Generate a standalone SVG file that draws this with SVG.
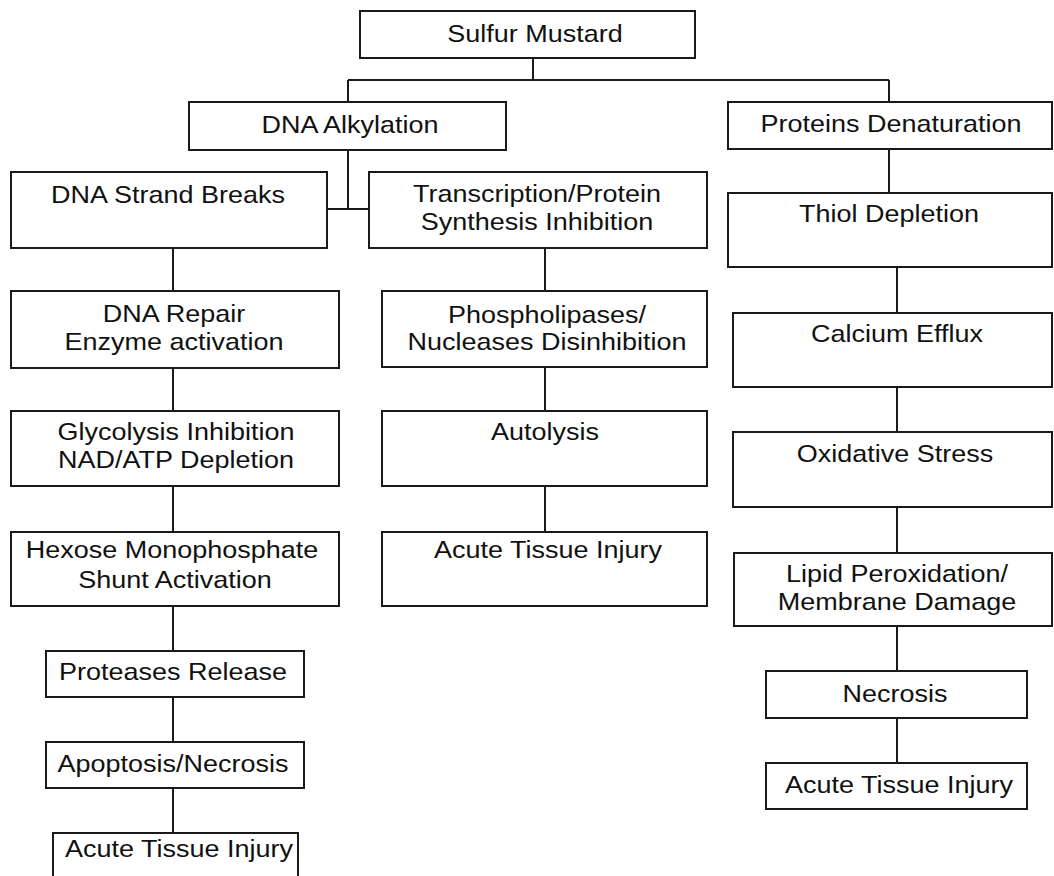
<svg xmlns="http://www.w3.org/2000/svg" width="1054" height="876" viewBox="0 0 1054 876">
  <style>
    .box { fill: #ffffff; stroke: #1a1a1a; stroke-width: 2; }
    .lbl { font-family: "Liberation Sans", Arial, sans-serif; font-size: 24px; fill: #111111; text-anchor: middle; }
    .wire { fill: none; stroke: #1a1a1a; stroke-width: 2; }
  </style>
  <rect x="0" y="0" width="1054" height="876" fill="#ffffff"/>

  <!-- connectors -->
  <g id="connectors" class="wire">
    <path d="M533 58 V80 M348 80 H889 M348 80 V102 M889 80 V102"/>
    <path d="M348 150 V209 M327 209 H369"/>
    <path d="M173 248 V291 M173 368 V411 M173 486 V532 M173 606 V651 M173 697 V742 M173 788 V833"/>
    <path d="M545 248 V291 M545 367 V411 M545 486 V532"/>
    <path d="M889 149 V193 M897 267 V313 M897 387 V432 M897 507 V553 M897 626 V671 M897 718 V763"/>
  </g>

  <!-- boxes; labels use a slightly widened face (x scaled by 1.125, so x values are divided by 1.125) -->
  <g id="sulfur-mustard">
    <rect class="box" x="360" y="11" width="335" height="47"/>
    <text class="lbl" transform="scale(1.125,1)" x="475.6" y="42">Sulfur Mustard</text>
  </g>
  <g id="dna-alkylation">
    <rect class="box" x="189" y="102" width="317" height="48"/>
    <text class="lbl" transform="scale(1.125,1)" x="311.1" y="133">DNA Alkylation</text>
  </g>
  <g id="proteins-denaturation">
    <rect class="box" x="728" y="102" width="324" height="47"/>
    <text class="lbl" transform="scale(1.125,1)" x="792" y="132">Proteins Denaturation</text>
  </g>

  <!-- left column -->
  <g id="dna-strand-breaks">
    <rect class="box" x="11" y="172" width="316" height="76"/>
    <text class="lbl" transform="scale(1.125,1)" x="149.3" y="203">DNA Strand Breaks</text>
  </g>
  <g id="dna-repair">
    <rect class="box" x="11" y="291" width="328" height="77"/>
    <text class="lbl" transform="scale(1.125,1)" x="154.7" y="322">DNA Repair</text>
    <text class="lbl" transform="scale(1.125,1)" x="154.7" y="350">Enzyme activation</text>
  </g>
  <g id="glycolysis-inhibition">
    <rect class="box" x="11" y="411" width="328" height="75"/>
    <text class="lbl" transform="scale(1.125,1)" x="156.4" y="440">Glycolysis Inhibition</text>
    <text class="lbl" transform="scale(1.125,1)" x="156.4" y="468">NAD/ATP Depletion</text>
  </g>
  <g id="hexose-shunt">
    <rect class="box" x="11" y="532" width="328" height="74"/>
    <text class="lbl" transform="scale(1.125,1)" x="152.9" y="558">Hexose Monophosphate</text>
    <text class="lbl" transform="scale(1.125,1)" x="155.6" y="588">Shunt Activation</text>
  </g>
  <g id="proteases-release">
    <rect class="box" x="46" y="651" width="258" height="46"/>
    <text class="lbl" transform="scale(1.125,1)" x="153.8" y="680">Proteases Release</text>
  </g>
  <g id="apoptosis-necrosis">
    <rect class="box" x="46" y="742" width="258" height="46"/>
    <text class="lbl" transform="scale(1.125,1)" x="153.8" y="772">Apoptosis/Necrosis</text>
  </g>
  <g id="acute-injury-left">
    <rect class="box" x="53" y="833" width="245" height="50"/>
    <text class="lbl" transform="scale(1.125,1)" x="159.1" y="857">Acute Tissue Injury</text>
  </g>

  <!-- middle column -->
  <g id="transcription-inhibition">
    <rect class="box" x="369" y="172" width="338" height="76"/>
    <text class="lbl" transform="scale(1.125,1)" x="477.3" y="202">Transcription/Protein</text>
    <text class="lbl" transform="scale(1.125,1)" x="477.3" y="230">Synthesis Inhibition</text>
  </g>
  <g id="phospholipases">
    <rect class="box" x="382" y="291" width="325" height="76"/>
    <text class="lbl" transform="scale(1.125,1)" x="486.2" y="323">Phospholipases/</text>
    <text class="lbl" transform="scale(1.125,1)" x="486.2" y="350">Nucleases Disinhibition</text>
  </g>
  <g id="autolysis">
    <rect class="box" x="382" y="411" width="325" height="75"/>
    <text class="lbl" transform="scale(1.125,1)" x="484.4" y="440">Autolysis</text>
  </g>
  <g id="acute-injury-middle">
    <rect class="box" x="382" y="532" width="325" height="74"/>
    <text class="lbl" transform="scale(1.125,1)" x="487.1" y="558">Acute Tissue Injury</text>
  </g>

  <!-- right column -->
  <g id="thiol-depletion">
    <rect class="box" x="728" y="193" width="324" height="74"/>
    <text class="lbl" transform="scale(1.125,1)" x="790.2" y="222">Thiol Depletion</text>
  </g>
  <g id="calcium-efflux">
    <rect class="box" x="733" y="313" width="319" height="74"/>
    <text class="lbl" transform="scale(1.125,1)" x="797.3" y="342">Calcium Efflux</text>
  </g>
  <g id="oxidative-stress">
    <rect class="box" x="733" y="432" width="319" height="75"/>
    <text class="lbl" transform="scale(1.125,1)" x="795.6" y="462">Oxidative Stress</text>
  </g>
  <g id="lipid-peroxidation">
    <rect class="box" x="734" y="553" width="318" height="73"/>
    <text class="lbl" transform="scale(1.125,1)" x="797.3" y="582">Lipid Peroxidation/</text>
    <text class="lbl" transform="scale(1.125,1)" x="797.3" y="610">Membrane Damage</text>
  </g>
  <g id="necrosis">
    <rect class="box" x="766" y="671" width="261" height="47"/>
    <text class="lbl" transform="scale(1.125,1)" x="795.6" y="702">Necrosis</text>
  </g>
  <g id="acute-injury-right">
    <rect class="box" x="766" y="763" width="261" height="46"/>
    <text class="lbl" transform="scale(1.125,1)" x="799.1" y="793">Acute Tissue Injury</text>
  </g>
</svg>
